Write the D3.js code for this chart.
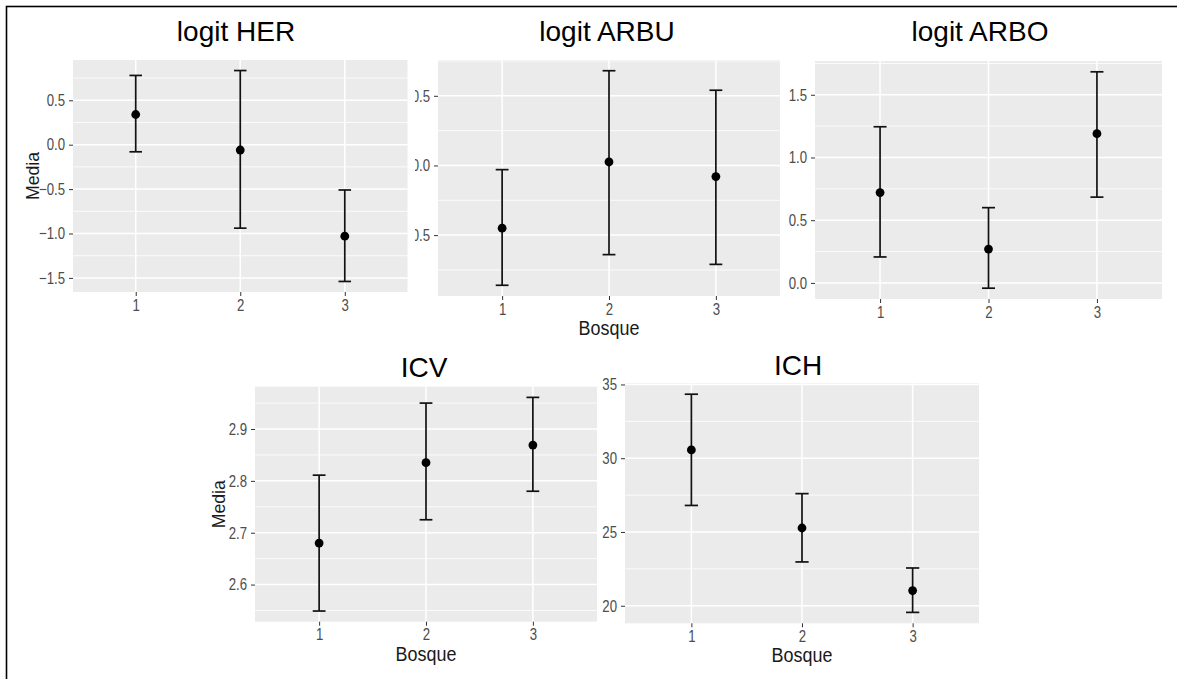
<!DOCTYPE html>
<html>
<head>
<meta charset="utf-8">
<script src="https://cdn.jsdelivr.net/npm/d3@7"></script>
<style>
html,body{margin:0;padding:0;background:#fff;}
svg{display:block;font-family:"Liberation Sans",Arial,sans-serif;}
</style>
</head>
<body>
<svg id="chart" width="1177" height="679"></svg>
<script>
// ---------- data ----------
const categories = ["1", "2", "3"];

const herMean  = [0.34, -0.06, -1.03];
const herLower = [-0.08, -0.94, -1.54];
const herUpper = [0.78, 0.835, -0.51];
const herTicks = [-1.5, -1.0, -0.5, 0.0, 0.5];

const arbuMean  = [-0.45, 0.025, -0.08];
const arbuLower = [-0.86, -0.64, -0.71];
const arbuUpper = [-0.03, 0.68, 0.54];
const arbuTicks = [-0.5, 0.0, 0.5];

const arboMean  = [0.72, 0.27, 1.19];
const arboLower = [0.207, -0.042, 0.684];
const arboUpper = [1.245, 0.60, 1.683];
const arboTicks = [0.0, 0.5, 1.0, 1.5];

const icvMean  = [2.68, 2.835, 2.869];
const icvLower = [2.549, 2.725, 2.78];
const icvUpper = [2.811, 2.95, 2.961];
const icvTicks = [2.6, 2.7, 2.8, 2.9];

const ichMean  = [30.56, 25.27, 21.03];
const ichLower = [26.8, 22.97, 19.55];
const ichUpper = [34.34, 27.6, 22.56];
const ichTicks = [20, 25, 30, 35];

const titles = ["logit HER", "logit ARBU", "logit ARBO", "ICV", "ICH"];
const yTitle = "Media";
const xTitle = "Bosque";

// ---------- layout ----------
const panels = [
  {title: titles[0], mean: herMean, lower: herLower, upper: herUpper, ticks: herTicks, fmt: d3.format(".1f"),
   box: [73, 60, 407.5, 292], titleX: 236, titleY: 40.5, yLab: 39, xLab: false, clip: null},
  {title: titles[1], mean: arbuMean, lower: arbuLower, upper: arbuUpper, ticks: arbuTicks, fmt: d3.format(".1f"),
   box: [438, 60, 780, 296], titleX: 607, titleY: 40.5, yLab: null, xLab: true, clip: [415, 0, 800, 340]},
  {title: titles[2], mean: arboMean, lower: arboLower, upper: arboUpper, ticks: arboTicks, fmt: d3.format(".1f"),
   box: [815, 61, 1162, 299], titleX: 980, titleY: 40.5, yLab: null, xLab: false, clip: null},
  {title: titles[3], mean: icvMean, lower: icvLower, upper: icvUpper, ticks: icvTicks, fmt: d3.format(".1f"),
   box: [255, 386.7, 597, 621.7], titleX: 424, titleY: 376.5, yLab: 225, xLab: true, clip: null},
  {title: titles[4], mean: ichMean, lower: ichLower, upper: ichUpper, ticks: ichTicks, fmt: d3.format("d"),
   box: [625, 383.3, 979, 623.3], titleX: 798, titleY: 375, yLab: null, xLab: true, clip: null}
];

const FONT = "Liberation Sans, Arial, sans-serif";
// squeeze text horizontally to mimic the narrow rendering in the screenshot
function squeeze(sel, f) {
  sel.each(function () {
    const w = this.getComputedTextLength();
    if (w > 0) d3.select(this).attr("textLength", w * f).attr("lengthAdjust", "spacingAndGlyphs");
  });
}

const svg = d3.select("#chart");
svg.append("rect").attr("width", 1177).attr("height", 679).attr("fill", "#fff");

// outer frame (only top and left edges visible)
svg.append("rect").attr("x", 6.5).attr("y", 6.5).attr("width", 1200).attr("height", 700)
  .attr("fill", "none").attr("stroke", "#000").attr("stroke-width", 1.6);

const defs = svg.append("defs");

panels.forEach((p, i) => {
  const [x0, y0, x1, y1] = p.box;
  let g = svg.append("g");
  if (p.clip) {
    const id = "clip" + i;
    defs.append("clipPath").attr("id", id).append("rect")
      .attr("x", p.clip[0]).attr("y", p.clip[1]).attr("width", p.clip[2] - p.clip[0]).attr("height", p.clip[3] - p.clip[1]);
    g.attr("clip-path", `url(#${id})`);
  }

  const lo = d3.min(p.lower), hi = d3.max(p.upper);
  const pad = (hi - lo) * 0.05;
  const y = d3.scaleLinear().domain([lo - pad, hi + pad]).range([y1, y0]);
  const x = d3.scalePoint().domain(categories).range([x0, x1]).padding(0.6);
  const step = x.step();

  // background
  g.append("rect").attr("x", x0).attr("y", y0).attr("width", x1 - x0).attr("height", y1 - y0).attr("fill", "#EBEBEB");

  // minor grid
  const majorStep = p.ticks[1] - p.ticks[0];
  const minor = [];
  for (let k = -1; k < p.ticks.length; k++) {
    const v = p.ticks[0] + (k + 0.5) * majorStep;
    const [dmin, dmax] = y.domain();
    if (v >= dmin && v <= dmax) minor.push(v);
  }
  g.selectAll(null).data(minor).enter().append("line")
    .attr("x1", x0).attr("x2", x1).attr("y1", d => y(d)).attr("y2", d => y(d))
    .attr("stroke", "#fff").attr("stroke-width", 0.8);
  // major grid
  g.selectAll(null).data(p.ticks).enter().append("line")
    .attr("x1", x0).attr("x2", x1).attr("y1", d => y(d)).attr("y2", d => y(d))
    .attr("stroke", "#fff").attr("stroke-width", 1.5);
  g.selectAll(null).data(categories).enter().append("line")
    .attr("x1", d => x(d)).attr("x2", d => x(d)).attr("y1", y0).attr("y2", y1)
    .attr("stroke", "#fff").attr("stroke-width", 1.5);

  // y axis
  const yAxis = d3.axisLeft(y).tickValues(p.ticks).tickFormat(p.fmt).tickSize(4).tickPadding(4);
  const ya = g.append("g").attr("transform", `translate(${x0},0)`).call(yAxis);
  ya.attr("font-family", FONT).attr("font-size", 16.5);
  ya.select(".domain").remove();
  ya.selectAll(".tick line").attr("stroke", "#333").attr("stroke-width", 1);
  ya.selectAll(".tick text").attr("fill", "#4D4D4D").attr("font-size", 16.5).attr("font-family", FONT);
  squeeze(ya.selectAll(".tick text"), 0.8);

  // x axis
  const xAxis = d3.axisBottom(x).tickSize(4).tickPadding(3);
  const xa = g.append("g").attr("transform", `translate(0,${y1})`).call(xAxis);
  xa.attr("font-family", FONT).attr("font-size", 16.5);
  xa.select(".domain").remove();
  xa.selectAll(".tick line").attr("stroke", "#333").attr("stroke-width", 1);
  xa.selectAll(".tick text").attr("fill", "#4D4D4D").attr("font-size", 16.5).attr("font-family", FONT);
  squeeze(xa.selectAll(".tick text"), 0.8);

  // error bars
  const rows = categories.map((c, j) => ({c, m: p.mean[j], lo: p.lower[j], hi: p.upper[j]}));
  const cap = step * 0.06;
  const eb = g.selectAll(null).data(rows).enter().append("g");
  eb.append("line").attr("x1", d => x(d.c)).attr("x2", d => x(d.c)).attr("y1", d => y(d.lo)).attr("y2", d => y(d.hi))
    .attr("stroke", "#111").attr("stroke-width", 1.7);
  eb.append("line").attr("x1", d => x(d.c) - cap).attr("x2", d => x(d.c) + cap).attr("y1", d => y(d.lo)).attr("y2", d => y(d.lo))
    .attr("stroke", "#111").attr("stroke-width", 1.7);
  eb.append("line").attr("x1", d => x(d.c) - cap).attr("x2", d => x(d.c) + cap).attr("y1", d => y(d.hi)).attr("y2", d => y(d.hi))
    .attr("stroke", "#111").attr("stroke-width", 1.7);
  eb.append("circle").attr("cx", d => x(d.c)).attr("cy", d => y(d.m)).attr("r", 4.4).attr("fill", "#000");

  // title
  g.append("text").attr("x", p.titleX).attr("y", p.titleY).attr("text-anchor", "middle")
    .attr("font-family", FONT).attr("font-size", 28).attr("fill", "#000").text(p.title);

  // axis titles
  if (p.xLab) {
    const t = g.append("text").attr("x", (x0 + x1) / 2).attr("y", y1 + 39).attr("text-anchor", "middle")
      .attr("font-family", FONT).attr("font-size", 19.5).attr("fill", "#1a1a1a").text(xTitle);
    squeeze(t, 0.92);
  }
  if (p.yLab !== null) {
    const t = g.append("text").attr("transform", `translate(${p.yLab},${(y0 + y1) / 2}) rotate(-90)`)
      .attr("text-anchor", "middle").attr("font-family", FONT).attr("font-size", 19).attr("fill", "#1a1a1a").text(yTitle);
    squeeze(t, 0.93);
  }
});
</script>
</body>
</html>
